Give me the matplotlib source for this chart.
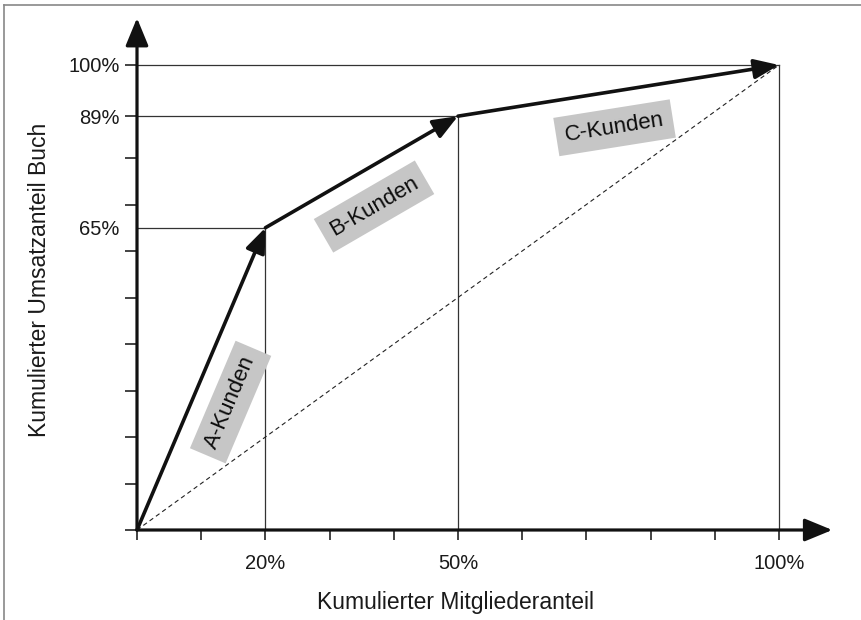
import numpy as np
import matplotlib
matplotlib.use('Agg')
import matplotlib.pyplot as plt

plt.rcParams['font.family'] = ['Liberation Sans', 'DejaVu Sans']

# cumulative member share (%) and cumulative revenue share (%)
member_share = [0, 20, 50, 100]
revenue_share = [0, 65, 89, 100]
classes = ['A-Kunden', 'B-Kunden', 'C-Kunden']
x_ticks = list(range(0, 101, 10))
x_labels = {20: '20%', 50: '50%', 100: '100%'}
y_ticks = [0, 10, 20, 30, 40, 50, 60, 70, 80, 89, 100]
y_labels = {89: '89%', 100: '100%'}

fig = plt.figure(figsize=(8.62, 6.2), dpi=100)
ax = fig.add_axes([137 / 862, 90 / 620, 642 / 862, 465 / 620])
ax.set_xlim(0, 100)
ax.set_ylim(0, 100)
for s in ax.spines.values():
    s.set_visible(False)

# ticks: every 10%, labels only at the class borders
ax.set_xticks(x_ticks)
ax.set_xticklabels([x_labels.get(t, '') for t in x_ticks])
ax.set_yticks(y_ticks)
ax.set_yticklabels([y_labels.get(t, '') for t in y_ticks])
ax.yaxis.set_minor_locator(matplotlib.ticker.FixedLocator([65]))
ax.yaxis.set_minor_formatter(matplotlib.ticker.FixedFormatter(['65%']))
ax.tick_params(axis='x', direction='out', length=7.5, width=1.2, pad=10,
               labelsize=14.5, color='#222222', labelcolor='#1a1a1a')
ax.tick_params(axis='y', which='both', direction='out', length=8.5, width=1.2, pad=4,
               labelsize=14.5, color='#222222', labelcolor='#1a1a1a')
ax.tick_params(axis='y', which='minor', length=0, pad=12.5)

# helper lines at the class borders
grey = '#333333'
for xv, yv in zip(member_share[1:], revenue_share[1:]):
    ax.plot([0, xv], [yv, yv], color=grey, lw=0.9, zorder=1, clip_on=False)
    ax.plot([xv, xv], [0, yv], color=grey, lw=0.9, zorder=1, clip_on=False)

# equal-distribution diagonal
ax.plot([0, 100], [0, 100], color='#222222', lw=0.8, ls=(0, (4, 3)), zorder=1)

# axes with arrows
ax.annotate('', xy=(108.3, 0), xytext=(0, 0), annotation_clip=False,
            arrowprops=dict(arrowstyle='-|>,head_length=0.85,head_width=0.35',
                            mutation_scale=20, lw=2.3, color='#111111',
                            shrinkA=0, shrinkB=0))
ax.annotate('', xy=(0, 110.1), xytext=(0, 0), annotation_clip=False,
            arrowprops=dict(arrowstyle='-|>,head_length=0.85,head_width=0.35',
                            mutation_scale=20, lw=2.3, color='#111111',
                            shrinkA=0, shrinkB=0))

# concentration curve segments with arrowheads
for i in range(len(classes)):
    ax.annotate('', xy=(member_share[i + 1], revenue_share[i + 1]),
                xytext=(member_share[i], revenue_share[i]), annotation_clip=False,
                arrowprops=dict(arrowstyle='-|>,head_length=0.75,head_width=0.3',
                                mutation_scale=20, lw=2.6, color='#111111',
                                shrinkA=0, shrinkB=0), zorder=4)

# class labels, parallel to their segment, below the line
fig.canvas.draw()
for i, name in enumerate(classes):
    p0 = ax.transData.transform((member_share[i], revenue_share[i]))
    p1 = ax.transData.transform((member_share[i + 1], revenue_share[i + 1]))
    ang = np.degrees(np.arctan2(p1[1] - p0[1], p1[0] - p0[0]))
    t = 0.47
    mx = member_share[i] + t * (member_share[i + 1] - member_share[i])
    my = revenue_share[i] + t * (revenue_share[i + 1] - revenue_share[i])
    off = 26
    dx = off * np.sin(np.radians(ang))
    dy = -off * np.cos(np.radians(ang))
    ax.annotate(name, xy=(mx, my), xytext=(dx, dy), textcoords='offset points',
                rotation=ang, rotation_mode='anchor', ha='center', va='center',
                fontsize=16, color='#0d0d0d',
                bbox=dict(boxstyle='square,pad=0.4', facecolor='#c6c6c6',
                          edgecolor='none'), zorder=3)

# axis titles
fig.text(456 / 862, 1 - 603 / 620, 'Kumulierter Mitgliederanteil',
         ha='center', va='center', fontsize=16.5, color='#1a1a1a')
fig.text(40 / 862, 1 - 280 / 620, 'Kumulierter Umsatzanteil Buch',
         ha='center', va='center', rotation=90, fontsize=16.5, color='#1a1a1a')

# scan frame (top and left edges)
fig.add_artist(plt.Line2D([4 / 862, 4 / 862], [0, 1 - 5 / 620], transform=fig.transFigure,
                          color='#888888', lw=1.2))
fig.add_artist(plt.Line2D([4 / 862, 1], [1 - 5 / 620, 1 - 5 / 620], transform=fig.transFigure,
                          color='#888888', lw=1.2))

fig.savefig('out.png', dpi=100)
